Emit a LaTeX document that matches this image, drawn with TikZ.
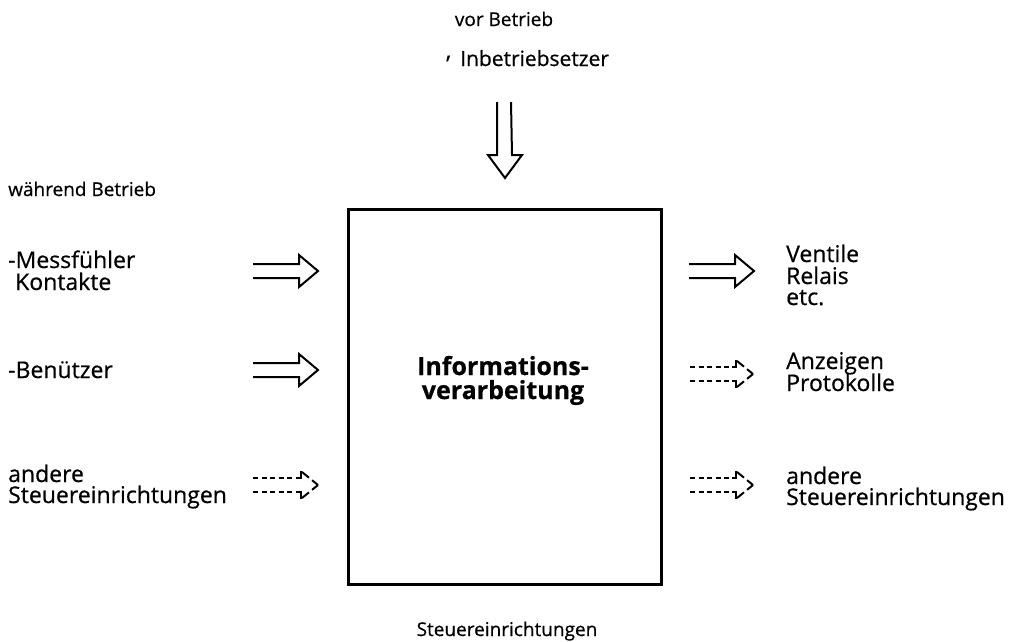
\documentclass[tikz,border=0pt]{standalone}
\usepackage{fontspec}
\setmainfont{Open Sans}[FakeBold=0.6]
\usetikzlibrary{calc}
\tikzset{
  lbl/.style={anchor=base west,inner sep=0pt,font=\fontsize{23}{24}\selectfont},
  small/.style={anchor=base,inner sep=0pt,font=\fontsize{19}{20}\selectfont},
  boldlbl/.style={anchor=base,inner sep=0pt,font=\fontsize{25}{26}\selectfont\bfseries},
  arrowline/.style={line width=2pt,line join=miter},
  dashline/.style={line width=2pt,dash pattern=on 5pt off 3.5pt},
  headdash/.style={line width=2pt,dash pattern=on 9pt off 4pt},
  mainbox/.style={draw,line width=2.8pt,inner sep=0pt}
}
\newcommand\hollowR[2]{%
  \draw[arrowline] ($(#1)+(0,-7)$) -- ($(#2)+(-19,-7)$) -- ($(#2)+(-19,-16)$) -- (#2)
    -- ($(#2)+(-19,16)$) -- ($(#2)+(-19,7)$) -- ($(#1)+(0,7)$);}
\newcommand\dashR[2]{%
  \draw[dashline] ($(#1)+(0,-7)$) -- ($(#2)+(-21,-7)$);
  \draw[dashline] ($(#1)+(0,7)$) -- ($(#2)+(-21,7)$);
  \draw[line width=2pt] ($(#2)+(-21,-7)$) -- ($(#2)+(-17,-7)$) -- ($(#2)+(-17,-14)$);
  \draw[line width=2pt] ($(#2)+(-21,7)$) -- ($(#2)+(-17,7)$) -- ($(#2)+(-17,14)$);
  \draw[headdash] ($(#2)+(-16,-13)$) -- (#2);
  \draw[headdash] ($(#2)+(-16,13)$) -- (#2);}
\begin{document}
\begin{tikzpicture}[x=1pt,y=-1pt]
\useasboundingbox (0,0) rectangle (1014,641);
% texts
\node[small] (vor) at (504,26) {vor Betrieb};
\node[lbl] (mark) at (446,72) {'};
\node[lbl,font=\fontsize{21}{22}\selectfont] (inb) at (460,66) {Inbetriebsetzer};
\node[small,anchor=base west] (wae) at (8,196) {während Betrieb};
\node[lbl] (mess) at (8,268) {-Messfühler};
\node[lbl] (kont) at (15,290) {Kontakte};
\node[lbl] (ben) at (8,378) {-Benützer};
\node[lbl] (andL) at (8,482) {andere};
\node[lbl] (steuL) at (8,503) {Steuereinrichtungen};
\node[lbl] (vent) at (786,262) {Ventile};
\node[lbl] (rel) at (786,284) {Relais};
\node[lbl] (etc) at (786,305) {etc.};
\node[lbl] (anz) at (786,369) {Anzeigen};
\node[lbl] (prot) at (786,391) {Protokolle};
\node[lbl] (andR) at (786,484) {andere};
\node[lbl] (steuR) at (786,505) {Steuereinrichtungen};
\node[small] (steuB) at (507,636) {Steuereinrichtungen};
% box
\node[mainbox,minimum width=313pt,minimum height=375pt,anchor=north west] (box) at (347,208) {};
\node[boldlbl] (info1) at (503,375) {Informations-};
\node[boldlbl] (info2) at (503,399) {verarbeitung};
% arrow coordinates
\coordinate (a1s) at (253,271); \coordinate (a1t) at (318,271);
\coordinate (a2s) at (253,370); \coordinate (a2t) at (318,370);
\coordinate (a3s) at (253,485); \coordinate (a3t) at (318,485);
\coordinate (b1s) at (689,271); \coordinate (b1t) at (754,271);
\coordinate (b2s) at (690,374); \coordinate (b2t) at (753,374);
\coordinate (b3s) at (690,485); \coordinate (b3t) at (753,485);
\hollowR{a1s}{a1t}
\hollowR{a2s}{a2t}
\dashR{a3s}{a3t}
\hollowR{b1s}{b1t}
\dashR{b2s}{b2t}
\dashR{b3s}{b3t}
% down arrow
\coordinate (ds) at (504,102); \coordinate (dt) at (505,178);
\draw[arrowline] ($(ds)+(-7,0)$) -- ($(dt)+(-8,-23)$) -- ($(dt)+(-17,-23)$) -- (dt)
  -- ($(dt)+(17,-23)$) -- ($(dt)+(7,-23)$) -- ($(ds)+(7,0)$);
\end{tikzpicture}
\end{document}
